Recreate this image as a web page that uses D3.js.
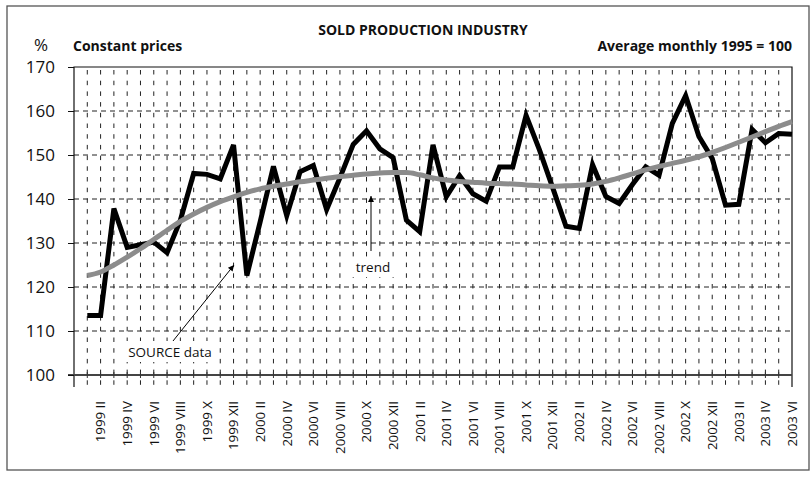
<!DOCTYPE html>
<html>
<head>
<meta charset="utf-8">
<script src="https://cdn.jsdelivr.net/npm/d3@7"></script>
<style>
    body { margin: 0; background: #fff; }
    text { font-family: "Open Sans", "Noto Sans", sans-serif; fill: #111; }
</style>
</head>
<body>
<div id="chart"></div>
<script>
// data, 1999 I .. 2003 VI
const years = [1999, 2000, 2001, 2002, 2003];
const romans = ["I", "II", "III", "IV", "V", "VI", "VII", "VIII", "IX", "X", "XI", "XII"];

const sourceData = [
    113.5, 113.5, 137.8, 129.0, 129.6, 130.2, 127.8, 135.2, 145.8, 145.6, 144.6, 152.3,
    122.6, 134.8, 147.4, 136.2, 146.2, 147.6, 137.6, 144.8, 152.4, 155.5, 151.4, 149.4,
    135.2, 132.6, 152.3, 140.5, 145.3, 141.2, 139.5, 147.3, 147.3, 159.0, 151.2, 142.6,
    133.8, 133.3, 147.8, 140.6, 139.0, 143.3, 147.3, 145.4, 157.2, 163.5, 154.2, 149.2,
    138.6, 138.8, 155.8, 152.8, 154.9, 154.7
];

const trendData = [
    122.6, 123.4, 125.0, 126.8, 128.7, 130.8, 132.9, 134.9, 136.6, 138.1, 139.4, 140.5,
    141.5, 142.3, 142.9, 143.4, 143.9, 144.3, 144.7, 145.1, 145.4, 145.7, 145.9, 146.0,
    146.0, 145.5, 144.8, 144.3, 144.0, 143.8, 143.6, 143.5, 143.4, 143.2, 143.0, 142.9,
    143.0, 143.1, 143.4, 144.0, 144.8, 145.7, 146.6, 147.4, 148.1, 148.8, 149.6, 150.6,
    151.7, 152.9, 154.1, 155.3, 156.5, 157.6
];

const yTicks = [100, 110, 120, 130, 140, 150, 160, 170];

// month labels for every point
const categories = [];
years.forEach(function(yr) {
    romans.forEach(function(r) { categories.push(yr + " " + r); });
});
categories.length = sourceData.length;

class LineChart {
    constructor(parentElement) {
        this.parentElement = parentElement;
        this.initVis();
    }

    initVis() {
        let vis = this;
        vis.width = 811;
        vis.height = 478;
        vis.plot = {left: 74, right: 792, top: 67, bottom: 387};

        vis.svg = d3.select("#" + vis.parentElement).append("svg")
            .attr("width", vis.width)
            .attr("height", vis.height);

        // outer frame
        vis.svg.append("rect")
            .attr("x", 7).attr("y", 6)
            .attr("width", 802).attr("height", 464)
            .attr("fill", "none")
            .attr("stroke", "#555")
            .attr("stroke-width", 1.3);

        // category index -1 sits on the left axis, last month on the right border
        vis.x = d3.scaleLinear()
            .domain([-1, sourceData.length - 1])
            .range([vis.plot.left, vis.plot.right]);

        vis.y = d3.scaleLinear()
            .domain([100, 170])
            .range([375, vis.plot.top]);

        let idx = d3.range(0, sourceData.length - 1);

        // vertical dashed grid
        vis.svg.append("g").selectAll("line")
            .data(idx)
            .enter()
            .append("line")
            .attr("x1", d => vis.x(d)).attr("x2", d => vis.x(d))
            .attr("y1", vis.plot.top + 3).attr("y2", vis.plot.bottom)
            .attr("stroke", "#222")
            .attr("stroke-width", 1)
            .attr("stroke-dasharray", "4.5,6.2");

        // horizontal dashed grid
        vis.svg.append("g").selectAll("line")
            .data(yTicks.slice(1, -1))
            .enter()
            .append("line")
            .attr("x1", vis.plot.left).attr("x2", vis.plot.right)
            .attr("y1", d => vis.y(d)).attr("y2", d => vis.y(d))
            .attr("stroke", "#222")
            .attr("stroke-width", 1)
            .attr("stroke-dasharray", "5,4");

        // plot border: top, left, right
        vis.svg.append("path")
            .attr("d", "M" + vis.plot.left + "," + vis.plot.bottom +
                "V" + vis.plot.top + "H" + vis.plot.right + "V" + vis.plot.bottom)
            .attr("fill", "none")
            .attr("stroke", "#111")
            .attr("stroke-width", 1.2);

        // category axis at 100
        vis.svg.append("line")
            .attr("x1", 68).attr("x2", vis.plot.right)
            .attr("y1", vis.y(100)).attr("y2", vis.y(100))
            .attr("stroke", "#444")
            .attr("stroke-width", 1.8);

        vis.svg.append("g").selectAll("line")
            .data(idx)
            .enter()
            .append("line")
            .attr("x1", d => vis.x(d)).attr("x2", d => vis.x(d))
            .attr("y1", vis.y(100) - 3).attr("y2", vis.y(100) + 3)
            .attr("stroke", "#333");

        // value axis
        let yAxis = d3.axisLeft(vis.y)
            .tickValues(yTicks)
            .tickSize(6)
            .tickPadding(13);

        let yg = vis.svg.append("g")
            .attr("transform", "translate(" + vis.plot.left + ",0)")
            .call(yAxis);
        yg.select(".domain").remove();
        yg.selectAll(".tick line").attr("stroke", "#111");
        yg.selectAll(".tick text")
            .style("font-family", "'Open Sans', sans-serif")
            .style("font-size", "17px")
            .attr("fill", "#111");

        // month labels, every second month
        vis.svg.append("g").selectAll("text")
            .data(idx.concat([sourceData.length - 1]).filter(d => d % 2 === 1))
            .enter()
            .append("text")
            .attr("transform", d => "translate(" + vis.x(d) + ",401) rotate(-90)")
            .attr("text-anchor", "end")
            .attr("dy", "0.36em")
            .style("font-size", "13.3px")
            .text(d => categories[d]);

        // series
        let line = d3.line()
            .x((d, i) => vis.x(i))
            .y(d => vis.y(d));

        vis.svg.append("path")
            .datum(sourceData)
            .attr("d", line)
            .attr("fill", "none")
            .attr("stroke", "#000")
            .attr("stroke-width", 5)
            .attr("stroke-linejoin", "miter");

        vis.svg.append("path")
            .datum(trendData)
            .attr("d", line.curve(d3.curveMonotoneX))
            .attr("fill", "none")
            .attr("stroke", "#8c8c8c")
            .attr("stroke-width", 5)
            .attr("stroke-linecap", "butt");

        // annotations
        vis.svg.append("defs").append("marker")
            .attr("id", "arrow")
            .attr("viewBox", "0 0 10 10")
            .attr("refX", 10).attr("refY", 5)
            .attr("markerWidth", 8).attr("markerHeight", 6)
            .attr("markerUnits", "userSpaceOnUse")
            .attr("orient", "auto")
            .append("path")
            .attr("d", "M0,0L10,5L0,10Z")
            .attr("fill", "#000");

        vis.svg.append("rect")
            .attr("x", 352).attr("y", 257).attr("width", 42).attr("height", 20)
            .attr("fill", "#fff");
        vis.svg.append("line")
            .attr("x1", 371).attr("y1", 251).attr("x2", 371).attr("y2", 196)
            .attr("stroke", "#000").attr("stroke-width", 1)
            .attr("marker-end", "url(#arrow)");
        vis.svg.append("text")
            .attr("x", 373).attr("y", 272)
            .attr("text-anchor", "middle")
            .style("font-size", "13.5px")
            .text("trend");

        vis.svg.append("rect")
            .attr("x", 123).attr("y", 341).attr("width", 94).attr("height", 21)
            .attr("fill", "#fff");
        vis.svg.append("line")
            .attr("x1", 173).attr("y1", 341).attr("x2", 234).attr("y2", 265)
            .attr("stroke", "#000").attr("stroke-width", 1)
            .attr("marker-end", "url(#arrow)");
        vis.svg.append("text")
            .attr("x", 170).attr("y", 357)
            .attr("text-anchor", "middle")
            .style("font-size", "13.5px")
            .text("SOURCE data");

        // titles
        vis.svg.append("text")
            .attr("x", 423).attr("y", 35)
            .attr("text-anchor", "middle")
            .style("font-size", "14px")
            .style("font-weight", "bold")
            .text("SOLD PRODUCTION INDUSTRY");

        vis.svg.append("text")
            .attr("x", 73).attr("y", 51)
            .style("font-size", "14px")
            .style("font-weight", "bold")
            .text("Constant prices");

        vis.svg.append("text")
            .attr("x", 792).attr("y", 51)
            .attr("text-anchor", "end")
            .style("font-size", "14px")
            .style("font-weight", "bold")
            .text("Average monthly 1995 = 100");

        vis.svg.append("text")
            .attr("x", 34).attr("y", 51)
            .style("font-size", "17px")
            .text("%");
    }
}

new LineChart("chart");
</script>
</body>
</html>
